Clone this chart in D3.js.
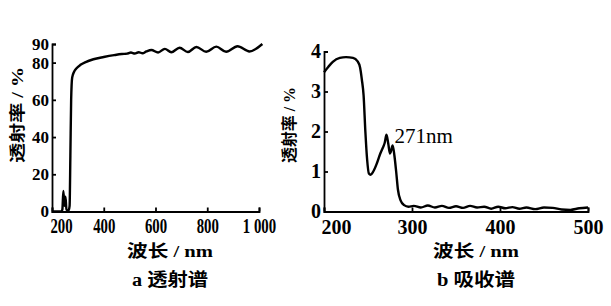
<!DOCTYPE html>
<html>
<head>
<meta charset="utf-8">
<script src="https://cdn.jsdelivr.net/npm/d3@7"></script>
<style>
  body { margin: 0; background: #fff; }
  text { fill: #000; }
  .num { font-family: "Liberation Serif", "Times New Roman", serif; font-weight: bold; }
  .cjk { font-family: "Noto Sans CJK SC", sans-serif; font-weight: bold; }
  .lat { font-family: "Liberation Serif", "Times New Roman", serif; font-weight: bold; }
</style>
</head>
<body>
<svg id="chart" width="611" height="306"></svg>
<script>
// a: transmission spectrum (wavelength nm, T %)
const transWl = [200, 236, 240, 244, 248, 252, 256, 264, 268, 271, 274, 278, 285, 295, 310, 330, 360, 400, 440, 470, 490,
  505, 520, 535, 550, 565, 584, 610, 636, 661, 693, 725, 758, 796, 835, 873, 917, 963, 1013];
const transVal = [0, 0, 1, 11, 3, 8, 1, 0.5, 3, 30, 60, 72, 75, 77, 78.8, 80.3, 81.8, 83, 84, 84.6, 84.8,
  85.4, 84.9, 85.6, 85, 86, 86.8, 85.4, 87.4, 85.6, 88, 85.7, 88.4, 85.8, 88.6, 85.8, 88.8, 86, 90];
const transXTicks = [200, 400, 600, 800, 1000];
const transYTicks = [0, 20, 40, 60, 80, 90];

// b: absorption spectrum
const absWl = [200, 205, 210, 218, 225, 233, 238, 241, 243, 245, 247, 249, 251, 253, 256, 260, 264, 267, 269, 271,
  273, 275, 276, 278, 280, 282, 284, 287, 291, 296, 302, 310, 318, 326, 334, 342, 350, 358, 366, 374, 382,
  390, 398, 406, 414, 422, 430, 440, 450, 460, 470, 480, 490, 500];
const absVal = [3.48, 3.62, 3.74, 3.84, 3.86, 3.84, 3.76, 3.6, 3.3, 2.9, 2.0, 1.3, 0.95, 0.92, 1.0, 1.2, 1.45, 1.6, 1.72, 1.92,
  1.7, 1.45, 1.5, 1.65, 1.4, 1.0, 0.55, 0.28, 0.16, 0.12, 0.14, 0.1, 0.15, 0.1, 0.14, 0.09, 0.13, 0.09, 0.14, 0.1, 0.12,
  0.07, 0.12, 0.08, 0.11, 0.07, 0.1, 0.06, 0.1, 0.09, 0.05, 0.04, 0.08, 0.1];
const absXTicks = [200, 300, 400, 500];
const absYTicks = [0, 1, 2, 3, 4];

const svg = d3.select("#chart");

// label with CJK part and Latin part in different fonts
function mixedLabel(sel, parts) {
  parts.forEach(p => {
    sel.append("tspan").attr("class", p[1]).text(p[0]);
  });
}

function panel(opts) {
  const x = d3.scaleLinear().domain(opts.xDomain).range(opts.xRange);
  const y = d3.scaleLinear().domain(opts.yDomain).range(opts.yRange);
  const g = svg.append("g");

  const xAxis = g.append("g")
    .attr("transform", `translate(0, ${opts.yRange[0]})`)
    .call(d3.axisBottom(x).tickValues(opts.xTicks).tickFormat(opts.xFormat)
      .tickSizeInner(-4).tickSizeOuter(-4).tickPadding(opts.xPad));
  xAxis.selectAll("text")
    .attr("class", "num")
    .style("font-size", opts.xFont + "px")
    .attr("transform", `scale(${opts.xScale},1)`)
    .attr("dx", d => (d === opts.xTicks[0] ? opts.firstDx : 0) / opts.xScale);

  const yAxis = g.append("g")
    .attr("transform", `translate(${opts.xRange[0]}, 0)`)
    .call(d3.axisLeft(y).tickValues(opts.yTicks).tickFormat(d => d)
      .tickSizeInner(-4).tickSizeOuter(-4).tickPadding(3));
  yAxis.selectAll("text")
    .attr("class", "num")
    .style("font-size", opts.yFont + "px");

  g.selectAll(".domain, .tick line")
    .attr("stroke", "#000")
    .attr("stroke-width", 1.8);
  g.selectAll(".tick text").attr("fill", "#000");

  const data = opts.wl.map((w, i) => [w, opts.val[i]]);
  g.append("path")
    .datum(data)
    .attr("fill", "none")
    .attr("stroke", "#000")
    .attr("stroke-width", 2.4)
    .attr("stroke-linejoin", "round")
    .attr("d", d3.line().x(d => x(d[0])).y(d => y(d[1])).curve(d3.curveMonotoneX));

  // y label (rotated)
  const yl = g.append("text")
    .attr("transform", `translate(${opts.yLabelX}, ${opts.yLabelY}) rotate(-90)`)
    .attr("text-anchor", "middle")
    .attr("dy", "0.35em")
    .attr("textLength", opts.yLabelLen)
    .attr("lengthAdjust", "spacingAndGlyphs")
    .style("font-size", "16px");
  mixedLabel(yl, [["透射率", "cjk"], [" / %", "lat"]]);

  const xl = g.append("text")
    .attr("x", opts.labelX)
    .attr("y", 257)
    .attr("text-anchor", "middle")
    .attr("textLength", 86)
    .attr("lengthAdjust", "spacingAndGlyphs")
    .style("font-size", "17px");
  mixedLabel(xl, [["波长", "cjk"], [" / nm", "lat"]]);

  const tl = g.append("text")
    .attr("x", opts.labelX)
    .attr("y", 286)
    .attr("text-anchor", "middle")
    .attr("textLength", opts.titleLen)
    .attr("lengthAdjust", "spacingAndGlyphs")
    .style("font-size", "18px");
  mixedLabel(tl, [[opts.titleLetter + " ", "lat"], [opts.title, "cjk"]]);

  return { x, y, g };
}

panel({
  wl: transWl, val: transVal,
  xDomain: [200, 1000], xRange: [52, 259],
  yDomain: [0, 90], yRange: [211.5, 44],
  xTicks: transXTicks, yTicks: transYTicks,
  xFormat: d => d === 1000 ? "1 000" : d,
  xFont: 20, xScale: 0.74, xPad: 7, firstDx: 9, yFont: 17,
  yLabelX: 17, yLabelY: 115, yLabelLen: 96,
  labelX: 170, titleLetter: "a", title: "透射谱", titleLen: 76
});

const b = panel({
  wl: absWl, val: absVal,
  xDomain: [200, 500], xRange: [324, 588],
  yDomain: [0, 4], yRange: [211.5, 51.5],
  xTicks: absXTicks, yTicks: absYTicks,
  xFormat: d => d,
  xFont: 20, xScale: 1, xPad: 8, firstDx: 12, yFont: 20,
  yLabelX: 289, yLabelY: 125, yLabelLen: 76,
  labelX: 476, titleLetter: "b", title: "吸收谱", titleLen: 78
});

// peak annotation
b.g.append("text")
  .attr("class", "num")
  .attr("x", b.x(271) + 8)
  .attr("y", b.y(1.92) + 8)
  .style("font-size", "21px")
  .style("font-weight", "normal")
  .text("271nm");
</script>
</body>
</html>
